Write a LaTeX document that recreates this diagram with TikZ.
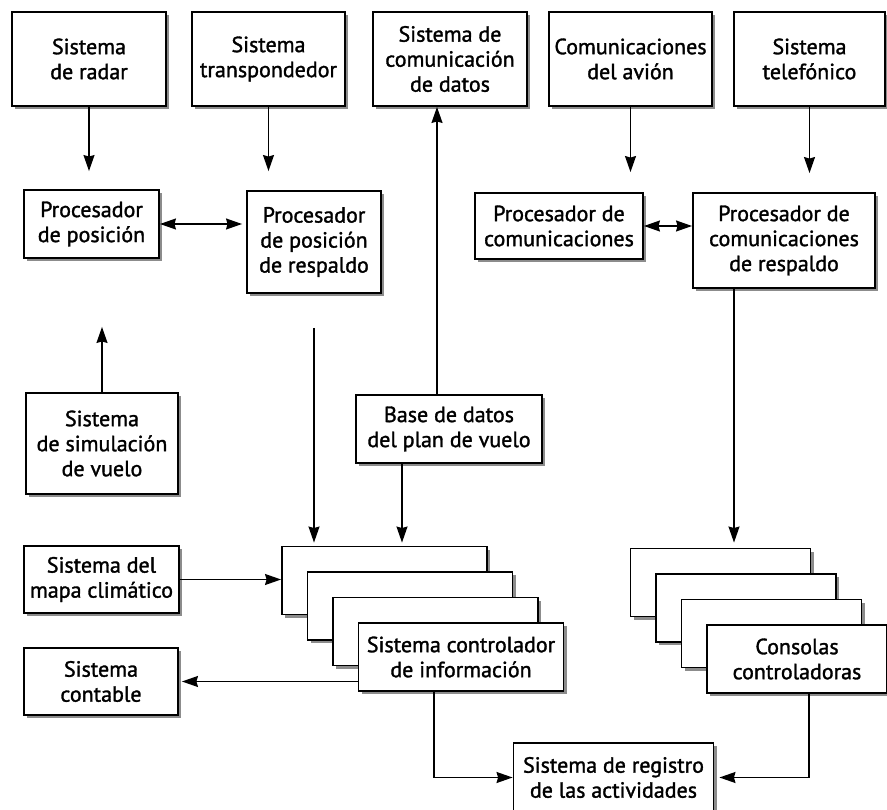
\documentclass[tikz,border=0pt]{standalone}
\usepackage{fontspec}
\setmainfont{PT Sans}[UprightFeatures={FakeBold=1.4}]
\usetikzlibrary{arrows.meta, shadows}

\begin{document}
\begin{tikzpicture}[x=1pt, y=-1pt,
    caja/.style={draw, line width=1.9pt, fill=white, align=center, inner sep=0pt,
      font=\fontsize{22}{25}\selectfont,
      drop shadow={shadow xshift=3pt, shadow yshift=-3pt, fill=black!45, opacity=1}},
    flecha/.style={line width=1.4pt, -{Stealth[length=16pt, width=11pt, inset=1.5pt]}},
    doble/.style={line width=1.4pt, {Stealth[length=16pt, width=11pt, inset=1.5pt]}-{Stealth[length=16pt, width=11pt, inset=1.5pt]}}]
          \useasboundingbox (0,0) rectangle (887,810);

          % Sistemas de entrada
          \node[caja, minimum width=154, minimum height=94] (radar) at (89,59) {Sistema\\de radar};
          \node[caja, minimum width=153, minimum height=94] (transp) at (268.5,59) {Sistema\\transpondedor};
          \node[caja, minimum width=154, minimum height=94] (datos) at (450,59) {Sistema de\\comunicación\\de datos};
          \node[caja, minimum width=163, minimum height=94] (avion) at (630.5,59) {Comunicaciones\\del avión};
          \node[caja, minimum width=151, minimum height=94] (telef) at (809.5,59) {Sistema\\telefónico};

          % Procesadores
          \node[caja, minimum width=135, minimum height=68] (procpos) at (91.5,224) {Procesador\\de posición};
          \node[caja, minimum width=134, minimum height=102] (procresp) at (314,242) {Procesador\\de posición\\de respaldo};
          \node[caja, minimum width=168, minimum height=66] (proccom) at (559,226) {Procesador de\\comunicaciones};
          \node[caja, minimum width=182, minimum height=95] (comresp) at (784,240.5) {Procesador de\\comunicaciones\\de respaldo};

          % Otros sistemas
          \node[caja, minimum width=152, minimum height=101] (simul) at (102,443.5) {Sistema\\de simulación\\de vuelo};
          \node[caja, minimum width=186, minimum height=68] (base) at (449,429) {Base de datos\\del plan de vuelo};
          \node[caja, minimum width=155, minimum height=67] (clima) at (101.5,579.5) {Sistema del\\mapa climático};
          \node[caja, minimum width=154, minimum height=67] (contable) at (101,681.5) {Sistema\\contable};

          % Pilas de sistemas controladores y consolas
          \foreach \i in {1,2,3} {
            \node[caja, minimum width=205, minimum height=68] (info\i) at ({384.5+25.5*(\i-1)},{580.5+25.5*(\i-1)}) {};
            \node[caja, minimum width=180, minimum height=68] (cons\i) at ({720.5+25.5*(\i-1)},{582.5+25.5*(\i-1)}) {};
          }
          \node[caja, minimum width=205, minimum height=68] (info4) at (461,657) {Sistema controlador\\de información};
          \node[caja, minimum width=180, minimum height=68] (cons4) at (797,659) {Consolas\\controladoras};

          \node[caja, minimum width=200, minimum height=69] (registro) at (613.5,777.5) {Sistema de registro\\de las actividades};

          % Flechas hacia los procesadores
          \draw[flecha, shorten >=18pt] (radar.south) -- (radar.south |- procpos.north);
          \draw[flecha, shorten >=19pt] (transp.south) -- (transp.south |- procresp.north);
          \draw[flecha, shorten >=20pt] (avion.south) -- (avion.south |- proccom.north);
          \draw[flecha, shorten >=19pt] (telef.south) -- (telef.south |- comresp.north);
          \draw[doble, shorten >=4pt] (procpos.east) -- (procpos.east -| procresp.west);
          \draw[doble] (proccom.east) -- (proccom.east -| comresp.west);

          % Flechas del centro
          \draw[flecha, shorten >=68pt] (simul.north) -- (simul.north |- procpos.south);
          \draw[flecha, shorten <=34pt, shorten >=3pt] (procresp.south) -- (procresp.south |- info1.north);
          \draw[flecha] ([xshift=-12pt]base.north) -- ([xshift=-12pt]base.north |- datos.south);
          \draw[flecha, shorten >=3pt] ([xshift=-47pt]base.south) -- ([xshift=-47pt]base.south |- info1.north);
          \draw[flecha, shorten >=5pt] ([xshift=-50pt]comresp.south) -- ([xshift=-50pt]comresp.south |- cons1.north);
          \draw[flecha] (clima.east) -- (clima.east -| info1.west);
          \draw[flecha, shorten >=3pt] (info4.west |- contable.east) -- (contable.east);

          % Flechas hacia el registro
          \draw[flecha] ([xshift=-27pt]info4.south) |- (registro.west);
          \draw[flecha, shorten >=5pt] ([xshift=12pt]cons4.south) |- (registro.east);
        \end{tikzpicture}
\end{document}
